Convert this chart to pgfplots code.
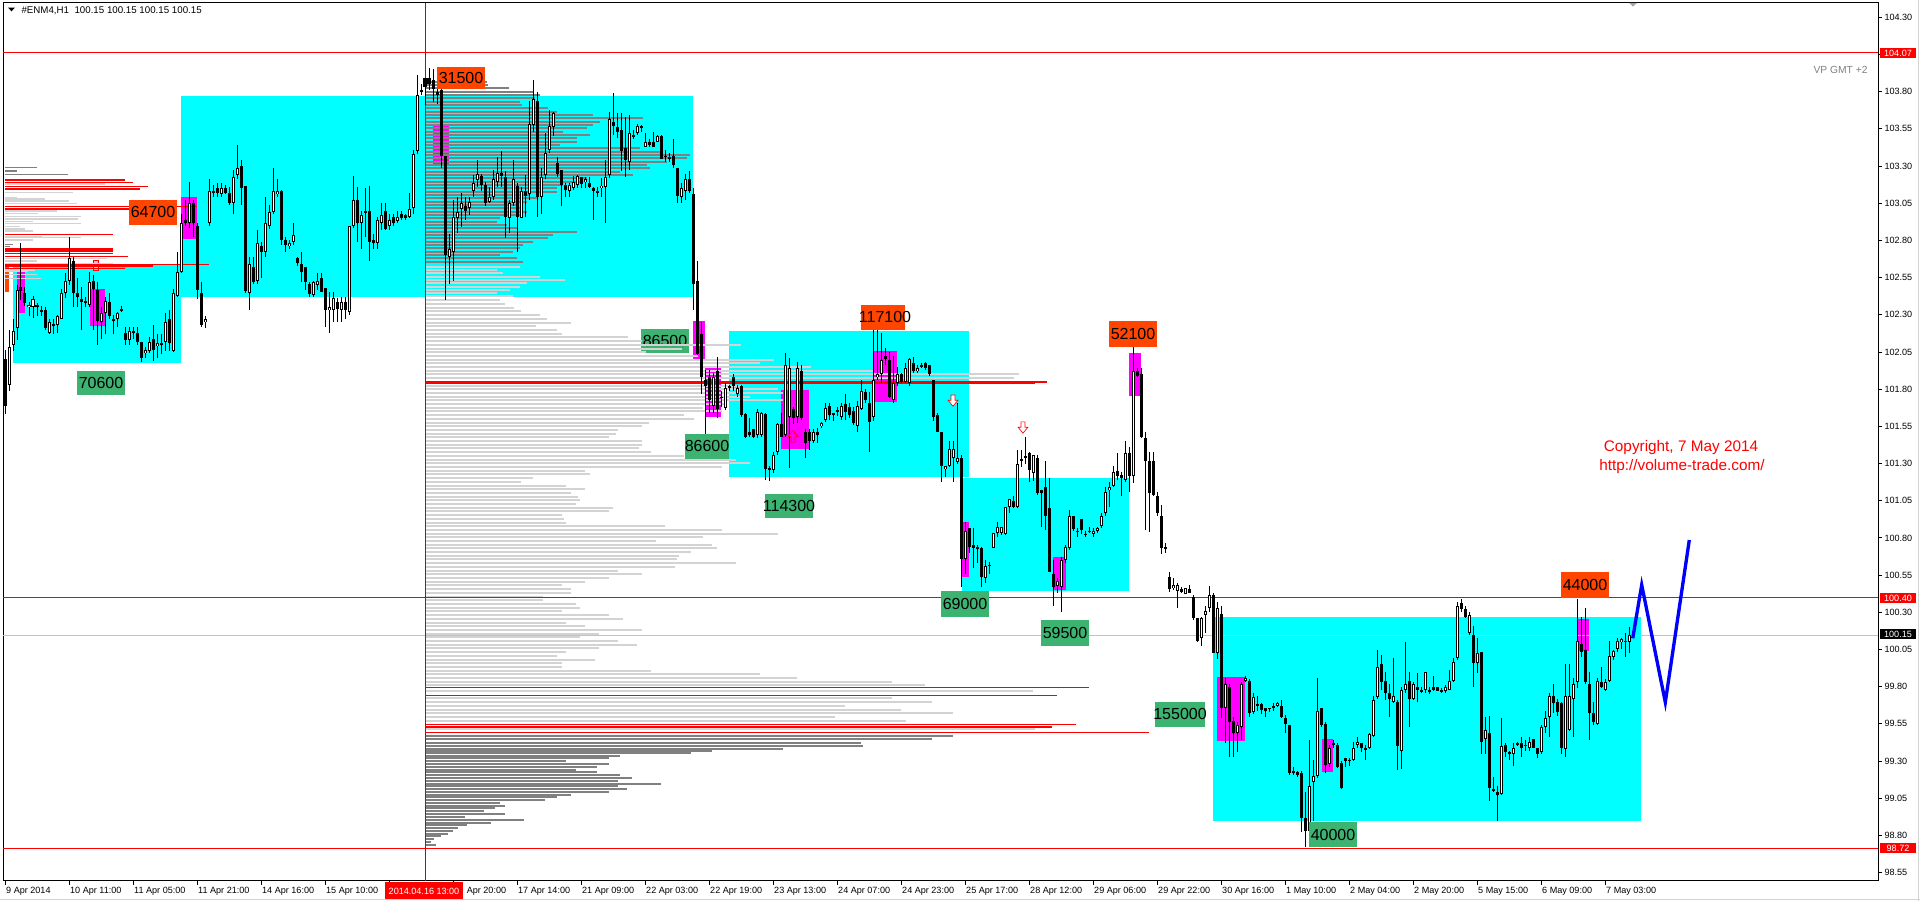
\documentclass[border=0pt]{standalone}
\usepackage{fontspec}
\setmainfont{Liberation Sans}
\usepackage{pgfplots}
\usepackage{pgfplotstable}
\pgfplotsset{compat=1.18}
\definecolor{cyanbox}{HTML}{00FFFF}
\definecolor{mag}{HTML}{FF00FF}
\definecolor{ored}{HTML}{FF4500}
\definecolor{mgreen}{HTML}{3CB371}
\definecolor{dgray}{HTML}{808080}
\definecolor{lgray}{HTML}{D3D3D3}
\definecolor{pred}{HTML}{FF0000}
\definecolor{vred}{HTML}{D00000}
\newcommand\lf{\fontsize{6}{6}\selectfont}
\newcommand\axf{\fontsize{3.4}{3.6}\selectfont}
\pgfplotsset{
  hbar/.style={draw=none, mark=none, error bars/.cd, x dir=plus, x explicit, error mark=none, draw error bar/.code 2 args={\draw[#1] ##1 -- ##2;}},
  vbar/.style={draw=none, mark=none, error bars/.cd, y dir=both, y explicit, error mark=none, draw error bar/.code 2 args={\draw[#1] ##1 -- ##2;}},
}

\pgfplotstableread{
x o h l c
5.7 102.00 102.06 101.63 101.69
9.3 101.83 102.20 101.79 102.08
13.5 102.10 102.27 102.06 102.19
17.3 102.21 102.50 102.13 102.47
20.7 102.49 102.78 102.40 102.46
24.3 102.45 102.49 102.36 102.38
29.0 102.35 102.39 102.29 102.37
33.0 102.35 102.43 102.28 102.41
37.0 102.37 102.38 102.29 102.35
41.3 102.33 102.36 102.29 102.32
45.3 102.33 102.35 102.20 102.21
49.3 102.18 102.27 102.17 102.25
53.3 102.23 102.27 102.17 102.24
57.3 102.23 102.30 102.18 102.29
61.3 102.27 102.47 102.27 102.45
65.3 102.45 102.58 102.41 102.53
69.3 102.53 102.82 102.50 102.68
73.3 102.66 102.69 102.35 102.45
77.3 102.45 102.55 102.35 102.42
81.3 102.41 102.49 102.20 102.39
85.3 102.39 102.42 102.35 102.38
89.3 102.37 102.59 102.35 102.52
93.3 102.53 102.57 102.20 102.47
97.3 102.47 102.52 102.10 102.26
101.3 102.25 102.35 102.14 102.31
105.3 102.31 102.42 102.17 102.39
109.3 102.39 102.45 102.27 102.29
113.3 102.27 102.30 102.17 102.26
117.3 102.27 102.32 102.22 102.31
121.3 102.33 102.36 102.32 102.34
125.3 102.18 102.22 102.10 102.13
129.3 102.13 102.22 102.10 102.19
133.3 102.18 102.22 102.14 102.19
137.3 102.18 102.22 102.10 102.12
141.3 102.12 102.12 101.98 102.01
145.3 102.04 102.08 102.01 102.06
149.3 102.06 102.15 102.04 102.12
153.3 102.14 102.23 101.99 102.06
157.3 102.09 102.17 102.01 102.11
161.3 102.10 102.17 102.04 102.11
165.3 102.12 102.31 102.06 102.25
169.3 102.27 102.33 102.06 102.11
173.3 102.06 102.47 102.05 102.45
177.3 102.43 102.72 102.42 102.59
181.3 102.59 102.98 102.58 102.92
185.3 102.94 103.07 102.90 102.92
189.3 102.92 103.19 102.88 103.05
193.3 103.05 103.07 102.82 102.92
197.3 102.90 102.92 102.41 102.47
201.3 102.45 102.52 102.22 102.23
205.3 102.25 102.29 102.21 102.27
209.3 102.92 103.21 102.90 103.13
213.3 103.13 103.17 103.09 103.12
217.3 103.15 103.19 103.09 103.12
221.3 103.11 103.19 103.09 103.15
225.3 103.15 103.17 103.11 103.12
229.3 103.12 103.16 103.04 103.05
233.3 103.05 103.27 102.98 103.23
237.3 103.24 103.44 103.21 103.29
241.3 103.30 103.34 103.04 103.15
245.3 103.17 103.17 102.45 102.46
249.3 102.45 102.69 102.33 102.64
253.3 102.62 102.69 102.51 102.52
257.3 102.53 102.87 102.51 102.78
261.3 102.76 102.79 102.55 102.72
265.3 102.72 103.09 102.69 102.92
269.3 102.90 103.04 102.88 102.99
273.3 102.99 103.29 102.98 103.13
277.3 103.11 103.21 103.09 103.13
281.3 103.13 103.14 102.77 102.80
285.3 102.80 102.82 102.72 102.77
289.3 102.76 102.80 102.74 102.78
293.3 102.79 102.92 102.77 102.84
297.3 102.68 102.69 102.63 102.65
301.3 102.64 102.72 102.52 102.59
305.3 102.62 102.62 102.47 102.52
309.3 102.51 102.52 102.42 102.44
313.3 102.43 102.53 102.42 102.52
317.3 102.50 102.58 102.47 102.53
321.3 102.55 102.58 102.45 102.45
325.3 102.48 102.48 102.22 102.33
329.3 102.33 102.45 102.18 102.35
333.3 102.33 102.45 102.25 102.41
337.3 102.39 102.41 102.25 102.34
341.3 102.33 102.42 102.25 102.39
345.3 102.39 102.42 102.27 102.33
349.3 102.32 102.90 102.30 102.90
353.3 102.90 103.23 102.88 103.07
357.3 103.07 103.16 102.79 102.92
361.3 102.92 103.00 102.74 102.97
365.3 103.00 103.15 102.82 102.99
369.3 103.00 103.17 102.66 102.79
373.3 102.80 102.84 102.74 102.78
377.3 102.78 102.96 102.74 102.94
381.3 102.92 103.05 102.87 102.97
385.3 103.00 103.05 102.87 102.88
389.3 102.90 102.98 102.87 102.94
393.3 102.96 102.98 102.90 102.92
397.3 102.93 103.00 102.92 102.96
401.3 102.98 103.00 102.94 102.95
405.3 102.97 102.98 102.94 102.95
409.3 102.96 103.12 102.95 103.01
413.3 103.02 103.41 102.98 103.38
417.3 103.40 103.91 103.38 103.78
421.3 103.80 103.85 103.78 103.81
425.0 103.89 103.89 103.71 103.83
429.0 103.89 103.96 103.81 103.85
433.3 103.88 103.95 103.73 103.82
437.3 103.80 103.96 103.72 103.78
441.3 103.81 103.86 103.29 103.37
445.3 103.37 103.37 102.40 102.70
449.3 102.69 102.84 102.51 102.74
453.3 102.72 103.07 102.53 102.96
457.3 102.95 103.09 102.85 102.99
461.3 103.01 103.12 102.89 103.05
465.3 103.03 103.09 102.94 103.00
469.3 103.02 103.09 102.97 103.06
473.3 103.13 103.24 103.09 103.19
477.3 103.21 103.34 103.16 103.25
481.3 103.23 103.25 103.13 103.17
485.3 103.17 103.19 103.03 103.05
489.3 103.06 103.16 103.05 103.09
493.3 103.09 103.27 103.07 103.21
497.3 103.19 103.36 103.16 103.25
501.3 103.25 103.40 103.16 103.23
505.3 103.23 103.27 102.82 102.96
509.3 102.95 103.07 102.85 103.05
513.3 103.05 103.34 103.03 103.21
517.3 103.17 103.19 102.72 102.96
521.3 102.95 103.16 102.95 103.13
525.3 103.13 103.24 102.96 103.10
529.3 103.11 103.74 103.07 103.58
533.3 103.58 103.88 103.53 103.75
537.3 103.74 103.80 102.96 103.09
541.3 103.09 103.29 102.98 103.23
545.3 103.24 103.52 103.21 103.39
549.3 103.41 103.68 103.39 103.57
553.3 103.56 103.66 103.50 103.66
557.3 103.32 103.36 103.23 103.25
561.3 103.27 103.27 103.03 103.17
565.3 103.17 103.19 103.09 103.14
569.3 103.13 103.19 103.09 103.17
573.3 103.15 103.23 103.14 103.19
577.3 103.17 103.24 103.15 103.23
581.3 103.23 103.23 103.15 103.18
585.3 103.19 103.23 103.15 103.21
589.3 103.19 103.23 103.15 103.16
593.3 103.15 103.16 102.94 103.13
597.3 103.13 103.16 103.09 103.12
601.3 103.15 103.22 103.09 103.17
605.3 103.16 103.34 102.92 103.23
609.3 103.24 103.66 103.22 103.62
613.3 103.60 103.79 103.51 103.57
617.3 103.56 103.66 103.49 103.53
621.3 103.54 103.66 103.27 103.40
625.3 103.42 103.63 103.23 103.34
629.3 103.33 103.64 103.27 103.52
633.3 103.50 103.54 103.48 103.51
637.3 103.52 103.58 103.51 103.57
641.3 103.56 103.58 103.53 103.57
645.3 103.43 103.52 103.43 103.46
649.3 103.46 103.48 103.43 103.44
653.3 103.46 103.53 103.43 103.43
657.3 103.46 103.51 103.46 103.50
661.3 103.50 103.51 103.35 103.35
665.3 103.37 103.41 103.33 103.36
669.3 103.36 103.39 103.33 103.35
673.3 103.37 103.48 103.29 103.31
677.3 103.29 103.29 103.05 103.10
681.3 103.09 103.19 103.05 103.15
685.3 103.13 103.25 103.07 103.21
689.3 103.21 103.27 103.12 103.13
693.3 103.11 103.15 102.33 102.51
697.3 102.53 102.66 102.03 102.04
701.3 102.17 102.25 101.77 101.88
705.3 101.86 101.93 101.47 101.82
709.3 101.88 101.93 101.64 101.73
713.3 101.69 101.91 101.64 101.88
717.3 101.92 102.02 101.61 101.67
721.3 101.74 101.79 101.68 101.75
725.3 101.67 101.84 101.66 101.81
729.3 101.81 101.83 101.79 101.82
733.3 101.88 101.90 101.79 101.82
737.3 101.77 101.83 101.75 101.81
741.3 101.82 101.83 101.61 101.63
745.3 101.63 101.64 101.47 101.48
749.3 101.51 101.61 101.48 101.49
753.3 101.53 101.53 101.47 101.48
757.3 101.49 101.67 101.47 101.65
761.3 101.49 101.65 101.48 101.64
765.3 101.63 101.64 101.19 101.26
769.3 101.27 101.28 101.18 101.26
773.3 101.26 101.38 101.24 101.36
777.3 101.38 101.57 101.36 101.57
781.3 101.57 101.64 101.48 101.48
785.3 101.49 102.04 101.48 101.96
789.3 101.61 102.01 101.27 101.94
793.3 101.67 101.68 101.57 101.61
797.3 101.61 101.98 101.57 101.94
801.3 101.92 101.96 101.59 101.61
805.3 101.51 101.53 101.34 101.44
809.3 101.51 101.53 101.39 101.45
813.3 101.45 101.53 101.44 101.51
817.3 101.51 101.54 101.44 101.49
821.3 101.55 101.58 101.54 101.57
825.3 101.59 101.71 101.58 101.67
829.3 101.69 101.71 101.59 101.63
833.3 101.63 101.64 101.59 101.64
837.3 101.65 101.68 101.62 101.66
841.3 101.61 101.71 101.59 101.69
845.3 101.70 101.77 101.59 101.65
849.3 101.68 101.71 101.61 101.63
853.3 101.65 101.68 101.56 101.57
857.3 101.55 101.72 101.51 101.69
861.3 101.67 101.86 101.66 101.79
865.3 101.78 101.80 101.71 101.73
869.3 101.71 101.78 101.38 101.58
873.3 101.61 102.20 101.59 101.86
877.3 101.88 102.20 101.86 101.90
881.3 101.90 102.18 101.84 102.00
885.3 102.02 102.08 101.96 102.00
889.3 102.00 102.05 101.74 101.75
893.3 101.73 102.02 101.71 101.84
897.3 101.84 101.95 101.82 101.90
901.3 101.90 101.91 101.84 101.85
905.3 101.85 101.98 101.84 101.94
909.3 101.84 102.01 101.82 102.00
913.3 101.98 102.02 101.91 101.92
917.3 101.92 101.96 101.91 101.94
921.3 101.96 101.98 101.94 101.95
925.3 101.98 101.98 101.93 101.94
929.3 101.96 101.96 101.89 101.90
933.3 101.86 101.86 101.59 101.61
937.3 101.63 101.64 101.51 101.51
941.3 101.51 101.51 101.18 101.28
945.3 101.26 101.28 101.21 101.28
949.3 101.28 101.45 101.28 101.40
953.3 101.34 101.45 101.18 101.40
957.3 101.31 101.71 101.30 101.34
961.3 101.34 101.36 100.47 100.66
965.3 100.66 100.91 100.56 100.85
969.3 100.87 100.87 100.70 100.74
973.3 100.75 100.87 100.60 100.73
977.3 100.74 100.75 100.63 100.73
981.3 100.73 100.74 100.47 100.54
985.3 100.53 100.65 100.50 100.61
989.3 100.61 100.64 100.56 100.62
993.3 100.73 100.83 100.73 100.83
997.3 100.83 100.91 100.81 100.87
1001.3 100.83 100.87 100.82 100.87
1005.3 100.83 101.01 100.82 101.01
1009.3 101.01 101.06 100.97 101.06
1013.3 101.05 101.08 101.00 101.01
1017.3 101.01 101.39 101.00 101.30
1021.3 101.32 101.39 101.28 101.33
1025.3 101.34 101.48 101.30 101.35
1029.3 101.37 101.38 101.18 101.26
1033.3 101.24 101.36 101.18 101.36
1037.3 101.34 101.36 101.09 101.10
1041.3 101.12 101.12 100.87 101.10
1045.3 101.14 101.32 100.85 100.95
1049.3 101.00 101.20 100.57 100.57
1053.3 100.56 100.65 100.34 100.47
1057.3 100.48 100.53 100.43 100.51
1061.3 100.47 100.67 100.30 100.65
1065.3 100.65 100.75 100.63 100.74
1069.3 100.73 100.99 100.72 100.95
1073.3 100.95 100.95 100.85 100.86
1077.3 100.84 100.87 100.81 100.85
1081.3 100.93 100.93 100.83 100.85
1085.3 100.83 100.85 100.81 100.82
1089.3 100.85 100.87 100.83 100.84
1093.3 100.83 100.87 100.81 100.85
1097.3 100.85 100.87 100.83 100.87
1101.3 100.88 100.97 100.87 100.95
1105.3 100.97 101.14 100.95 101.11
1109.3 101.12 101.18 101.01 101.14
1113.3 101.15 101.28 101.14 101.24
1117.3 101.25 101.37 101.19 101.22
1121.3 101.22 101.24 101.08 101.20
1125.3 101.19 101.45 101.18 101.37
1129.3 101.37 101.41 101.11 101.22
1133.3 101.22 102.17 101.17 101.92
1137.3 101.92 101.94 101.88 101.89
1141.3 101.90 101.94 101.47 101.48
1145.3 101.47 101.51 100.85 101.32
1149.3 101.32 101.38 100.84 101.10
1153.3 101.32 101.38 101.08 101.09
1157.3 101.08 101.11 100.95 100.97
1161.3 100.95 101.02 100.69 100.73
1165.3 100.74 100.77 100.70 100.73
1169.3 100.54 100.57 100.44 100.46
1173.3 100.46 100.53 100.45 100.48
1177.3 100.44 100.50 100.33 100.48
1181.3 100.46 100.47 100.43 100.44
1185.3 100.42 100.46 100.42 100.46
1189.3 100.46 100.48 100.43 100.43
1193.3 100.40 100.42 100.25 100.26
1197.3 100.26 100.26 100.10 100.11
1201.3 100.13 100.27 100.07 100.26
1205.3 100.28 100.34 100.16 100.31
1209.3 100.33 100.48 100.30 100.42
1213.3 100.42 100.43 100.03 100.03
1217.3 100.03 100.37 99.99 100.33
1221.3 100.29 100.34 99.59 99.66
1225.3 99.66 99.86 99.42 99.82
1229.3 99.80 99.82 99.33 99.56
1233.3 99.57 99.60 99.33 99.49
1237.3 99.49 99.56 99.36 99.54
1241.3 99.53 99.83 99.44 99.82
1245.3 99.84 99.87 99.83 99.86
1249.3 99.84 99.85 99.60 99.62
1253.3 99.63 99.76 99.62 99.73
1257.3 99.68 99.74 99.64 99.67
1261.3 99.68 99.69 99.62 99.64
1265.3 99.66 99.66 99.60 99.64
1269.3 99.65 99.66 99.63 99.66
1273.3 99.67 99.69 99.64 99.66
1277.3 99.67 99.70 99.66 99.69
1281.3 99.67 99.71 99.59 99.60
1285.3 99.59 99.61 99.49 99.55
1289.3 99.54 99.54 99.21 99.22
1293.3 99.23 99.26 99.21 99.22
1297.3 99.23 99.23 99.19 99.21
1301.3 99.22 99.23 98.82 98.92
1305.3 98.92 99.09 98.72 98.83
1309.3 98.83 99.44 98.82 99.13
1313.3 99.16 99.31 98.90 99.20
1317.3 99.20 99.86 99.19 99.64
1321.3 99.66 99.66 99.53 99.54
1325.3 99.55 99.56 99.22 99.27
1329.3 99.28 99.41 99.26 99.39
1333.3 99.42 99.44 99.39 99.41
1337.3 99.41 99.42 99.25 99.26
1341.3 99.29 99.30 99.11 99.12
1345.3 99.32 99.32 99.26 99.30
1349.3 99.31 99.32 99.27 99.30
1353.3 99.31 99.43 99.30 99.39
1357.3 99.41 99.46 99.39 99.43
1361.3 99.42 99.42 99.36 99.39
1365.3 99.39 99.41 99.31 99.38
1369.3 99.39 99.49 99.38 99.48
1373.3 99.47 99.74 99.46 99.71
1377.3 99.73 100.05 99.72 99.93
1381.3 99.95 100.01 99.78 99.83
1385.3 99.84 99.90 99.71 99.76
1389.3 99.76 99.82 99.60 99.72
1393.3 99.70 99.99 99.69 99.74
1397.3 99.70 99.71 99.24 99.40
1401.3 99.37 99.80 99.25 99.78
1405.3 99.78 100.10 99.76 99.82
1409.3 99.84 99.90 99.53 99.72
1413.3 99.72 99.83 99.71 99.82
1417.3 99.80 99.89 99.70 99.78
1421.3 99.78 99.80 99.76 99.77
1425.3 99.78 99.90 99.76 99.90
1429.3 99.77 99.80 99.75 99.78
1433.3 99.80 99.87 99.77 99.78
1437.3 99.80 99.80 99.77 99.77
1441.3 99.78 99.79 99.76 99.77
1445.3 99.77 99.81 99.76 99.80
1449.3 99.78 99.91 99.78 99.84
1453.3 99.84 99.99 99.83 99.97
1457.3 99.99 100.37 99.98 100.34
1461.3 100.36 100.39 100.30 100.32
1465.3 100.32 100.34 100.26 100.27
1469.3 100.16 100.30 100.15 100.28
1473.3 100.15 100.21 99.80 99.96
1477.3 99.96 100.13 99.89 100.03
1481.3 100.03 100.03 99.35 99.43
1485.3 99.45 99.60 99.35 99.51
1489.3 99.49 99.60 99.03 99.12
1493.3 99.11 99.19 99.09 99.10
1497.3 99.09 99.13 98.90 99.07
1501.3 99.08 99.59 99.07 99.40
1505.3 99.41 99.42 99.33 99.36
1509.3 99.36 99.37 99.31 99.35
1513.3 99.35 99.42 99.27 99.39
1517.3 99.42 99.43 99.40 99.41
1521.3 99.42 99.46 99.33 99.39
1525.3 99.41 99.44 99.37 99.40
1529.3 99.39 99.46 99.37 99.43
1533.7 99.45 99.45 99.39 99.39
1537.7 99.39 99.39 99.32 99.35
1541.7 99.36 99.54 99.35 99.53
1545.7 99.53 99.64 99.49 99.59
1549.7 99.60 99.76 99.46 99.74
1553.7 99.74 99.82 99.62 99.69
1557.7 99.70 99.72 99.60 99.63
1561.7 99.69 99.70 99.35 99.39
1565.7 99.38 99.95 99.33 99.74
1569.7 99.51 99.95 99.50 99.74
1573.7 99.72 99.86 99.46 99.82
1577.7 99.83 100.39 99.79 100.11
1581.7 100.09 100.27 100.00 100.03
1585.7 100.05 100.33 99.82 99.83
1589.7 99.82 99.90 99.44 99.62
1593.7 99.62 99.70 99.54 99.56
1597.7 99.55 99.86 99.54 99.84
1601.7 99.83 99.93 99.79 99.80
1605.7 99.78 99.85 99.77 99.83
1609.7 99.84 100.11 99.83 100.01
1613.7 100.00 100.05 99.98 100.04
1617.7 100.05 100.13 100.03 100.11
1621.7 100.10 100.13 100.05 100.12
1625.7 100.10 100.16 100.00 100.11
1629.7 100.10 100.20 100.03 100.15
}\candles

\pgfplotstableread{
p u
103.867 61
103.845 62
103.822 83
103.800 107
103.777 114
103.755 109
103.732 94
103.710 96
103.688 122
103.665 131
103.643 167
103.620 217
103.598 174
103.575 167
103.553 161
103.531 137
103.508 164
103.486 151
103.463 151
103.441 134
103.419 214
103.396 237
103.374 264
103.351 261
103.329 241
103.307 221
103.284 224
103.262 194
103.239 207
103.217 161
103.195 154
103.172 137
103.150 131
103.127 131
103.105 104
103.083 111
103.060 101
103.038 91
103.015 94
102.993 101
102.971 94
102.948 74
102.926 71
102.903 81
102.881 91
102.858 151
102.836 127
102.814 122
102.791 107
102.769 97
102.746 94
102.724 87
102.702 74
102.679 91
102.657 97
98.849 32
98.832 27
98.811 22
98.794 15
98.774 8
98.756 5
98.737 10
99.471 527
99.446 506
99.422 435
99.402 437
99.382 357
99.367 286
99.352 265
99.337 194
99.317 183
99.297 140
99.280 183
99.260 171
99.243 150
99.223 171
99.205 194
99.186 206
99.168 192
99.148 235
99.130 192
99.110 201
99.093 183
99.073 145
99.056 131
99.036 119
99.018 74
98.999 79
98.981 69
98.961 58
98.944 79
98.924 39
98.906 98
98.886 65
98.869 41
}\vpdark

\pgfplotstableread{
p u
102.624 94
102.602 71
102.579 77
102.557 114
102.535 139
102.512 101
102.490 94
102.467 84
102.445 71
102.423 87
102.397 74
102.372 79
102.347 88
102.322 95
102.297 114
102.272 121
102.247 145
102.223 110
102.198 131
102.173 136
102.148 202
102.123 216
102.098 315
102.073 256
102.049 220
102.024 272
101.999 348
101.974 334
101.949 385
101.924 447
101.899 593
101.875 588
101.824 315
101.799 352
101.774 357
101.749 324
101.724 357
101.700 301
101.675 277
101.650 296
101.625 258
101.600 268
101.575 223
101.550 216
101.526 192
101.501 190
101.476 183
101.451 216
101.426 216
101.401 213
101.376 225
101.352 258
101.327 310
101.302 324
101.277 296
101.252 159
101.227 164
101.202 107
101.177 95
101.152 140
101.127 159
101.103 145
101.078 152
101.053 154
101.028 150
101.003 187
100.978 183
100.953 136
100.928 138
100.903 140
100.879 239
100.854 296
100.829 352
100.804 277
100.779 230
100.754 286
100.729 291
100.704 265
100.680 253
100.655 251
100.630 310
100.605 249
100.580 192
100.555 216
100.530 183
100.505 159
100.480 136
100.455 145
100.431 145
100.406 117
100.381 117
100.356 150
100.331 154
100.306 136
100.281 183
100.256 197
100.231 140
100.207 159
100.182 216
100.157 173
100.132 154
100.107 192
100.082 211
100.057 173
100.032 140
100.007 131
99.982 169
99.957 136
99.932 136
99.908 225
99.883 334
99.858 371
99.833 466
99.808 499
99.771 607
99.721 466
99.696 506
99.671 419
99.646 475
99.621 527
99.597 409
99.572 480
99.514 609
}\vplight

\pgfplotstableread{
p u
101.849 621
101.838 609
99.795 663
99.741 631
99.547 650
99.529 626
99.491 723
}\vpred

\pgfplotstableread{
p u
103.292 32
103.267 12
103.245 63
102.774 8
102.758 5
}\lpdark
\pgfplotstableread{
p u
103.178 100
103.124 68
103.087 12
103.079 40
103.065 64
103.050 72
102.998 52
102.983 33
102.960 76
102.944 73
102.926 28
102.915 76
102.893 15
102.877 20
102.864 28
102.825 37
102.819 76
102.803 28
102.680 102
102.662 32
102.646 108
102.601 30
102.590 23
102.572 32
102.545 36
}\lplight
\pgfplotstableread{
p u
103.206 120
103.191 128
103.162 143
103.146 135
103.027 192
103.012 132
102.841 108
102.743 108
102.729 108
102.714 108
102.691 123
102.640 204
102.628 148
102.613 120
}\lpred

\begin{document}
\begin{tikzpicture}
\useasboundingbox (0pt,0pt) rectangle (720pt,337.875pt);
\fill[white] (0pt,0pt) rectangle (720pt,337.875pt);
\begin{axis}[
  at={(1.125pt,7.5pt)}, anchor=south west,
  scale only axis, width=703.125pt, height=329.3625pt,
  xmin=3, xmax=1878, ymin=98.4935, ymax=104.398,
  clip=false,
  axis line style={black, line width=0.375pt},
  tick style={black, line width=0.3pt},
  tick align=outside,
  major tick length=1.5pt,
  ytick={98.55,98.80,99.05,99.30,99.55,99.80,100.05,100.30,100.55,100.80,101.05,101.30,101.55,101.80,102.05,102.30,102.55,102.80,103.05,103.30,103.55,103.80,104.05,104.30},
  yticklabels={98.55,98.80,99.05,99.30,99.55,99.80,100.05,100.30,100.55,100.80,101.05,101.30,101.55,101.80,102.05,102.30,102.55,102.80,103.05,103.30,103.55,103.80,104.05,104.30},
  ytick pos=right, yticklabel pos=right,
  xtick={5,69,133,197,261,325,389,453,517,581,645,709,773,837,901,965,1029,1093,1157,1221,1285,1349,1413,1477,1541,1605},
  xticklabels={9 Apr 2014,10 Apr 11:00,11 Apr 05:00,11 Apr 21:00,14 Apr 16:00,15 Apr 10:00,{},{\phantom{16 }Apr 20:00},17 Apr 14:00,21 Apr 09:00,22 Apr 03:00,22 Apr 19:00,23 Apr 13:00,24 Apr 07:00,24 Apr 23:00,25 Apr 17:00,28 Apr 12:00,29 Apr 06:00,29 Apr 22:00,30 Apr 16:00,1 May 10:00,2 May 04:00,2 May 20:00,5 May 15:00,6 May 09:00,7 May 03:00},
  xtick pos=bottom,
  ticklabel style={font=\axf, inner sep=0pt},
  yticklabel style={anchor=west, xshift=0.75pt},
  xticklabel style={anchor=north west, xshift=0.25pt, yshift=-0.5pt},
]
\fill[cyanbox] (axis cs:13,102.635) rectangle (axis cs:181,101.976);
\fill[cyanbox] (axis cs:181,103.771) rectangle (axis cs:693,102.420);
\fill[cyanbox] (axis cs:729,102.191) rectangle (axis cs:969,101.210);
\fill[cyanbox] (axis cs:962,101.203) rectangle (axis cs:1129,100.443);
\fill[cyanbox] (axis cs:1213,100.269) rectangle (axis cs:1641,98.897);
\fill[mag] (axis cs:17,102.615) rectangle (axis cs:25,102.312);
\fill[mag] (axis cs:90,102.474) rectangle (axis cs:105,102.225);
\fill[mag] (axis cs:181,103.092) rectangle (axis cs:197,102.810);
\fill[mag] (axis cs:433,103.576) rectangle (axis cs:449,103.300);
\fill[mag] (axis cs:693,102.259) rectangle (axis cs:705,101.996);
\fill[mag] (axis cs:705,101.949) rectangle (axis cs:721,101.613);
\fill[mag] (axis cs:781,101.795) rectangle (axis cs:809,101.398);
\fill[mag] (axis cs:873,102.057) rectangle (axis cs:897,101.714);
\fill[mag] (axis cs:962,100.907) rectangle (axis cs:969,100.538);
\fill[mag] (axis cs:1053,100.672) rectangle (axis cs:1066,100.450);
\fill[mag] (axis cs:1129,102.043) rectangle (axis cs:1141,101.754);
\fill[mag] (axis cs:1217,99.865) rectangle (axis cs:1245,99.435);
\fill[mag] (axis cs:1322,99.448) rectangle (axis cs:1333,99.227);
\fill[mag] (axis cs:1578,100.255) rectangle (axis cs:1589,100.040);
\fill[ored] (axis cs:5,102.635) rectangle (axis cs:9,102.454);
\draw[pred, fill=mag!30, line width=0.25pt] (axis cs:93,102.669) rectangle (axis cs:98,102.601);
\fill[mgreen] (axis cs:641,102.205) rectangle (axis cs:689,102.043);
\node[font=\lf, inner sep=0pt] at (axis cs:665,102.124) {86500};
\addplot[hbar={dgray, line width=0.75pt}] table[x expr=426, y=p, x error=u] {\vpdark};
\addplot[hbar={lgray, line width=0.75pt}] table[x expr=426, y=p, x error=u] {\vplight};
\addplot[hbar={pred, line width=0.55pt}] table[x expr=426, y=p, x error=u] {\vpred};
\addplot[hbar={dgray, line width=0.5pt}] table[x expr=5, y=p, x error=u] {\lpdark};
\addplot[hbar={lgray, line width=0.5pt}] table[x expr=5, y=p, x error=u] {\lplight};
\addplot[hbar={pred, line width=0.5pt}] table[x expr=5, y=p, x error=u] {\lpred};
\draw[lgray!80!gray, line width=0.375pt] (axis cs:3,100.147) -- (axis cs:1878,100.147);
\draw[pred, line width=0.5pt] (axis cs:3,104.065) -- (axis cs:1878,104.065);
\draw[pred, line width=0.5pt] (axis cs:3,100.40) -- (axis cs:1878,100.40);
\draw[pred, line width=0.5pt] (axis cs:3,98.71) -- (axis cs:1878,98.71);
\draw[vred, line width=0.375pt] (axis cs:425.5,98.4935) -- (axis cs:425.5,104.398);
\addplot[vbar={black, line width=0.375pt}] table[x=x, y expr={(\thisrow{h}+\thisrow{l})/2}, y error expr={(\thisrow{h}-\thisrow{l})/2}] {\candles};
\addplot[vbar={black, line width=1.2pt}] table[x=x, y expr={(\thisrow{o}+\thisrow{c})/2}, y error expr={max(abs(\thisrow{c}-\thisrow{o})/2,0.005)}] {\candles};
\addplot[vbar={white, line width=0.45pt}] table[x=x, y expr={(\thisrow{o}+\thisrow{c})/2}, y error expr={max((\thisrow{c}-\thisrow{o})/2-0.0067,0)}] {\candles};
\addplot[blue, line width=1.25pt] coordinates {(1632.7,100.125) (1641.7,100.484) (1665.3,99.695) (1689.3,100.786)};
\fill[ored] (axis cs:437,103.966) rectangle (axis cs:485,103.818);
\node[font=\lf, inner sep=0pt] at (axis cs:461,103.892) {31500};
\fill[ored] (axis cs:129,103.072) rectangle (axis cs:177,102.904);
\node[font=\lf, inner sep=0pt] at (axis cs:153,102.988) {64700};
\fill[mgreen] (axis cs:77,101.922) rectangle (axis cs:125,101.761);
\node[font=\lf, inner sep=0pt] at (axis cs:101,101.842) {70600};
\fill[ored] (axis cs:861,102.366) rectangle (axis cs:905,102.198);
\node[font=\lf, inner sep=0pt] at (axis cs:885,102.282) {117100};
\fill[mgreen] (axis cs:685,101.499) rectangle (axis cs:729,101.331);
\node[font=\lf, inner sep=0pt] at (axis cs:707,101.415) {86600};
\fill[mgreen] (axis cs:765,101.095) rectangle (axis cs:813,100.934);
\node[font=\lf, inner sep=0pt] at (axis cs:789,101.015) {114300};
\fill[ored] (axis cs:1109,102.259) rectangle (axis cs:1157,102.084);
\node[font=\lf, inner sep=0pt] at (axis cs:1133,102.171) {52100};
\fill[mgreen] (axis cs:941,100.443) rectangle (axis cs:989,100.269);
\node[font=\lf, inner sep=0pt] at (axis cs:965,100.356) {69000};
\fill[mgreen] (axis cs:1041,100.249) rectangle (axis cs:1089,100.074);
\node[font=\lf, inner sep=0pt] at (axis cs:1065,100.161) {59500};
\fill[mgreen] (axis cs:1155,99.697) rectangle (axis cs:1205,99.529);
\node[font=\lf, inner sep=0pt] at (axis cs:1180,99.613) {155000};
\fill[mgreen] (axis cs:1309,98.890) rectangle (axis cs:1357,98.722);
\node[font=\lf, inner sep=0pt] at (axis cs:1333,98.806) {40000};
\fill[ored] (axis cs:1561,100.571) rectangle (axis cs:1609,100.396);
\node[font=\lf, inner sep=0pt] at (axis cs:1585,100.484) {44000};
\draw[pred, fill=white, line width=0.25pt] (axis cs:953,101.761) ++(-0.75pt,0pt) -- ++(1.5pt,0pt) -- ++(0pt,-2pt) -- ++(1.1pt,0pt) -- ++(-1.85pt,-2.25pt) -- ++(-1.85pt,2.25pt) -- ++(1.1pt,0pt) -- cycle;
\draw[pred, fill=white, line width=0.25pt] (axis cs:1023,101.580) ++(-0.75pt,0pt) -- ++(1.5pt,0pt) -- ++(0pt,-2pt) -- ++(1.1pt,0pt) -- ++(-1.85pt,-2.25pt) -- ++(-1.85pt,2.25pt) -- ++(1.1pt,0pt) -- cycle;
\draw[pred, fill=mag, line width=0.25pt] (axis cs:793,101.445) ++(-0.75pt,0pt) -- ++(1.5pt,0pt) -- ++(0pt,2pt) -- ++(1.1pt,0pt) -- ++(-1.85pt,2.25pt) -- ++(-1.85pt,-2.25pt) -- ++(1.1pt,0pt) -- cycle;
\node[pred, font=\fontsize{5.75}{6}\selectfont, inner sep=0pt] at (axis cs:1681,101.405) {Copyright, 7 May 2014};
\node[pred, font=\fontsize{5.75}{6}\selectfont, inner sep=0pt] at (axis cs:1682,101.277) {http://volume-trade.com/};
\node[dgray, font=\fontsize{3.85}{4}\selectfont, inner sep=0pt, anchor=east] at (axis cs:1868,103.946) {VP GMT +2};
\node[font=\fontsize{3.65}{4}\selectfont, inner sep=0pt, anchor=west] at (axis cs:21,104.346) {\#ENM4,H1\ \ 100.15 100.15 100.15 100.15};
\fill[black] (axis cs:8,104.365) -- (axis cs:15,104.365) -- (axis cs:11.5,104.34) -- cycle;
\fill[dgray!70] (axis cs:1629,104.397) -- (axis cs:1637,104.397) -- (axis cs:1633,104.372) -- cycle;
\end{axis}
\begin{scope}[x=0.375pt, y=-0.375pt, yshift=337.875pt]
\fill[pred] (1880,48) rectangle (1916,58);
\node[white, font=\axf, inner sep=0pt] at (1898,53) {104.07};
\fill[pred] (1880,593) rectangle (1916,603);
\node[white, font=\axf, inner sep=0pt] at (1898,598) {100.40};
\fill[black] (1880,629) rectangle (1916,639);
\node[white, font=\axf, inner sep=0pt] at (1898,634) {100.15};
\fill[pred] (1880,843) rectangle (1916,853);
\node[white, font=\axf, inner sep=0pt] at (1898,848) {98.72};
\fill[pred] (385,882) rectangle (463,900);
\node[white, font=\axf, inner sep=0pt] at (424,891) {2014.04.16 13:00};
\draw[lgray, line width=0.375pt] (1918.5,0) -- (1918.5,901);
\draw[lgray, line width=0.375pt] (0,899.5) -- (1920,899.5);
\end{scope}
\end{tikzpicture}
\end{document}
